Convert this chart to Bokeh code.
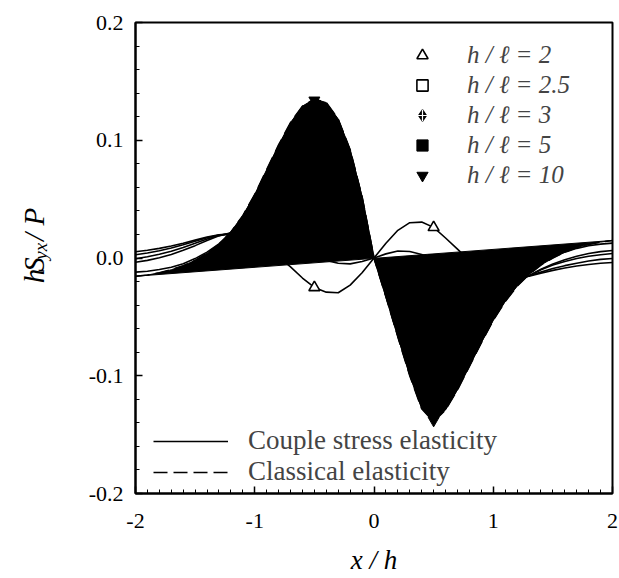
from bokeh.plotting import figure
from bokeh.models import Range1d, FixedTicker, NumeralTickFormatter, Legend, LegendItem
from bokeh.layouts import row
from bokeh.core.properties import value
from bokeh.embed import file_html
from bokeh.resources import INLINE
import math

# ---------------- data ----------------
x_vals = [round(-2.0 + 0.1 * i, 1) for i in range(41)]

classical = [-0.0155, -0.0145, -0.0125, -0.0100, -0.0065, -0.0020, 0.0040, 0.0115, 0.0220, 0.0360,
             0.0540, 0.0750, 0.0960, 0.1150, 0.1290, 0.1350, 0.1320, 0.1180, 0.0920, 0.0520,
             0.0000,
             -0.0330, -0.0670, -0.1000, -0.1280, -0.1390, -0.1290, -0.1120, -0.0920, -0.0720, -0.0530,
             -0.0370, -0.0240, -0.0140, -0.0060, 0.0000, 0.0050, 0.0090, 0.0115, 0.0135, 0.0149]

hl10 = [-0.0120, -0.0112, -0.0098, -0.0078, -0.0048, -0.0005, 0.0050, 0.0120, 0.0218, 0.0352,
        0.0528, 0.0735, 0.0945, 0.1135, 0.1280, 0.1340, 0.1310, 0.1170, 0.0910, 0.0515,
        0.0000,
        -0.0325, -0.0660, -0.0985, -0.1265, -0.1380, -0.1280, -0.1110, -0.0910, -0.0710, -0.0520,
        -0.0360, -0.0230, -0.0130, -0.0050, 0.0008, 0.0050, 0.0082, 0.0104, 0.0118, 0.0126]

hl5 = [-0.0036, -0.0020, 0.0002, 0.0030, 0.0065, 0.0105, 0.0148, 0.0188, 0.0215, 0.0270,
       0.0340, 0.0420, 0.0490, 0.0550, 0.0590, 0.0600, 0.0570, 0.0490, 0.0360, 0.0190,
       0.0000,
       -0.0190, -0.0360, -0.0490, -0.0570, -0.0600, -0.0585, -0.0545, -0.0490, -0.0420, -0.0345,
       -0.0270, -0.0205, -0.0150, -0.0095, -0.0050, -0.0015, 0.0015, 0.0038, 0.0054, 0.0064]

hl3 = [-0.0007, 0.0010, 0.0032, 0.0058, 0.0090, 0.0125, 0.0162, 0.0192, 0.0210, 0.0225,
       0.0245, 0.0265, 0.0280, 0.0290, 0.0290, 0.0280, 0.0255, 0.0210, 0.0150, 0.0080,
       0.0000,
       -0.0080, -0.0150, -0.0210, -0.0255, -0.0280, -0.0290, -0.0290, -0.0280, -0.0260, -0.0235,
       -0.0210, -0.0185, -0.0150, -0.0100, -0.0060, -0.0030, -0.0005, 0.0015, 0.0028, 0.0038]

hl25 = [0.0027, 0.0043, 0.0062, 0.0085, 0.0112, 0.0142, 0.0172, 0.0195, 0.0200, 0.0185,
        0.0160, 0.0130, 0.0095, 0.0065, 0.0035, 0.0015, -0.0020, -0.0045, -0.0050, -0.0030,
        0.0000,
        0.0035, 0.0060, 0.0055, 0.0030, -0.0015, -0.0045, -0.0075, -0.0105, -0.0135, -0.0155,
        -0.0165, -0.0165, -0.0150, -0.0120, -0.0090, -0.0065, -0.0045, -0.0025, -0.0012, -0.0004]

hl2 = [0.0053, 0.0066, 0.0082, 0.0102, 0.0126, 0.0152, 0.0178, 0.0198, 0.0205, 0.0190,
       0.0150, 0.0090, 0.0010, -0.0075, -0.0170, -0.0250, -0.0290, -0.0295, -0.0230, -0.0125,
       0.0000,
       0.0125, 0.0235, 0.0300, 0.0305, 0.0260, 0.0170, 0.0075, -0.0020, -0.0100, -0.0150,
       -0.0170, -0.0170, -0.0155, -0.0130, -0.0105, -0.0085, -0.0068, -0.0055, -0.0045, -0.0038]

marker_x = [-0.5, 0.5]
series_labels = ["h / ℓ = 2", "h / ℓ = 2.5", "h / ℓ = 3", "h / ℓ = 5", "h / ℓ = 10"]
line_labels = ["Couple stress elasticity", "Classical elasticity"]
x_title = "x / h"
y_title_parts = ["h", "S", "yx", "/ P"]

x_ticks = [-2, -1, 0, 1, 2]
y_ticks = [-0.2, -0.1, 0.0, 0.1, 0.2]
x_minor = [round(-2 + 0.1 * i, 1) for i in range(41)]
y_minor = [round(-0.2 + 0.02 * i, 2) for i in range(21)]

# ---------------- layout constants ----------------
FONT = "Liberation Serif"
TOTAL_W, TOTAL_H = 619, 578
LAB_W = 60
FRAME_LEFT, FRAME_RIGHT, FRAME_TOP, FRAME_BOTTOM = 135, 612, 22, 493

# ---------------- main figure ----------------
p = figure(width=TOTAL_W - LAB_W, height=TOTAL_H, x_range=Range1d(-2, 2), y_range=Range1d(-0.2, 0.2),
           output_backend="svg", toolbar_location=None,
           min_border_left=FRAME_LEFT - LAB_W, min_border_right=TOTAL_W - FRAME_RIGHT,
           min_border_top=FRAME_TOP, min_border_bottom=TOTAL_H - FRAME_BOTTOM)
p.background_fill_color = "white"
p.border_fill_color = "white"
p.xgrid.visible = False
p.ygrid.visible = False
p.outline_line_color = "black"
p.outline_line_width = 2

for ax, ticks, minor, fmt in [(p.xaxis[0], x_ticks, x_minor, "0"), (p.yaxis[0], y_ticks, y_minor, "0.0")]:
    ax.ticker = FixedTicker(ticks=ticks, minor_ticks=minor)
    ax.formatter = NumeralTickFormatter(format=fmt)
    ax.axis_line_width = 2
    ax.axis_line_color = "black"
    ax.major_tick_in = 7
    ax.major_tick_out = 0
    ax.minor_tick_in = 4
    ax.minor_tick_out = 0
    ax.major_tick_line_color = "black"
    ax.minor_tick_line_color = "black"
    ax.major_tick_line_width = 1.5
    ax.minor_tick_line_width = 1
    ax.major_label_text_font = FONT
    ax.major_label_text_font_size = "22px"
    ax.major_label_text_color = "black"
p.xaxis.major_label_standoff = 20
p.yaxis.major_label_standoff = 12
p.xaxis.axis_label = x_title
p.xaxis.axis_label_text_font = FONT
p.xaxis.axis_label_text_font_style = "italic"
p.xaxis.axis_label_text_font_size = "27px"
p.xaxis.axis_label_text_color = "black"
p.xaxis.axis_label_standoff = 14

LW = 1.6
r2 = p.line(x_vals, hl2, line_color="black", line_width=LW)
p.line(x_vals, hl25, line_color="black", line_width=LW)
p.line(x_vals, hl3, line_color="black", line_width=LW)
p.line(x_vals, hl5, line_color="black", line_width=LW)
p.line(x_vals, hl10, line_color="black", line_width=LW)
rc = p.line(x_vals, classical, line_color="black", line_width=LW, line_dash="14 6")

def at(series):
    return [series[x_vals.index(v)] for v in marker_x]

m2 = p.scatter(marker_x, at(hl2), marker="triangle", size=11, fill_color="white", line_color="black", line_width=1.6)
m25 = p.scatter(marker_x, at(hl25), marker="square", size=10, fill_color="white", line_color="black", line_width=1.6)
m3a = p.scatter(marker_x, at(hl3), marker="diamond", size=13, fill_color="black", line_color="black", line_width=1.5)
m3b = p.scatter(marker_x, at(hl3), marker="cross", size=8, line_color="white", line_width=1.2)
m5 = p.scatter(marker_x, at(hl5), marker="square", size=10, fill_color="black", line_color="black")

p.patch(x_vals, classical, fill_color="black", line_color="black", line_width=1)

m10 = p.scatter(marker_x, at(hl10), marker="inverted_triangle", size=11, fill_color="black", line_color="black")

# ---------------- legends ----------------
leg1 = Legend(items=[LegendItem(label=series_labels[0], renderers=[m2]),
                     LegendItem(label=series_labels[1], renderers=[m25]),
                     LegendItem(label=series_labels[2], renderers=[m3a, m3b]),
                     LegendItem(label=series_labels[3], renderers=[m5]),
                     LegendItem(label=series_labels[4], renderers=[m10])],
              location=(273, 303), orientation="vertical",
              glyph_width=28, glyph_height=30, label_height=30, spacing=0,
              label_standoff=31, padding=0, margin=0,
              border_line_color=None, background_fill_alpha=0,
              label_text_font=FONT, label_text_font_style="italic", label_text_font_size="25px")
leg2 = Legend(items=[LegendItem(label=line_labels[0], renderers=[r2]),
                     LegendItem(label=line_labels[1], renderers=[rc])],
              location=(18, 6), orientation="vertical",
              glyph_width=75, glyph_height=30, label_height=30, spacing=0,
              label_standoff=20, padding=0, margin=0,
              border_line_color=None, background_fill_alpha=0,
              label_text_font=FONT, label_text_font_size="27px")
p.add_layout(leg1)
p.add_layout(leg2)

# ---------------- y-axis title in a narrow side figure ----------------
lf = figure(width=LAB_W, height=TOTAL_H, x_range=Range1d(0, LAB_W), y_range=Range1d(0, TOTAL_H),
            output_backend="svg", toolbar_location=None, x_axis_type=None, y_axis_type=None,
            min_border=0, min_border_left=0, min_border_right=0, min_border_top=0, min_border_bottom=0)
lf.outline_line_color = None
lf.background_fill_color = "white"
lf.border_fill_color = "white"

tx = 33
# (screen y where the piece starts, font size, shift to the right for subscript)
pieces = [(320, "29px", 0), (306, "29px", 0), (291, "19px", 7), (268, "29px", 0)]
for txt, (sy, fs, dx) in zip(y_title_parts, pieces):
    lf.text(x=[tx + dx], y=[TOTAL_H - sy], text=[txt], angle=math.pi / 2,
            text_font=value(FONT), text_font_style="italic", text_font_size=fs,
            text_align="left", text_baseline="middle", text_color="black")

layout = row(lf, p)
open("out.html", "w").write(file_html(layout, INLINE))
